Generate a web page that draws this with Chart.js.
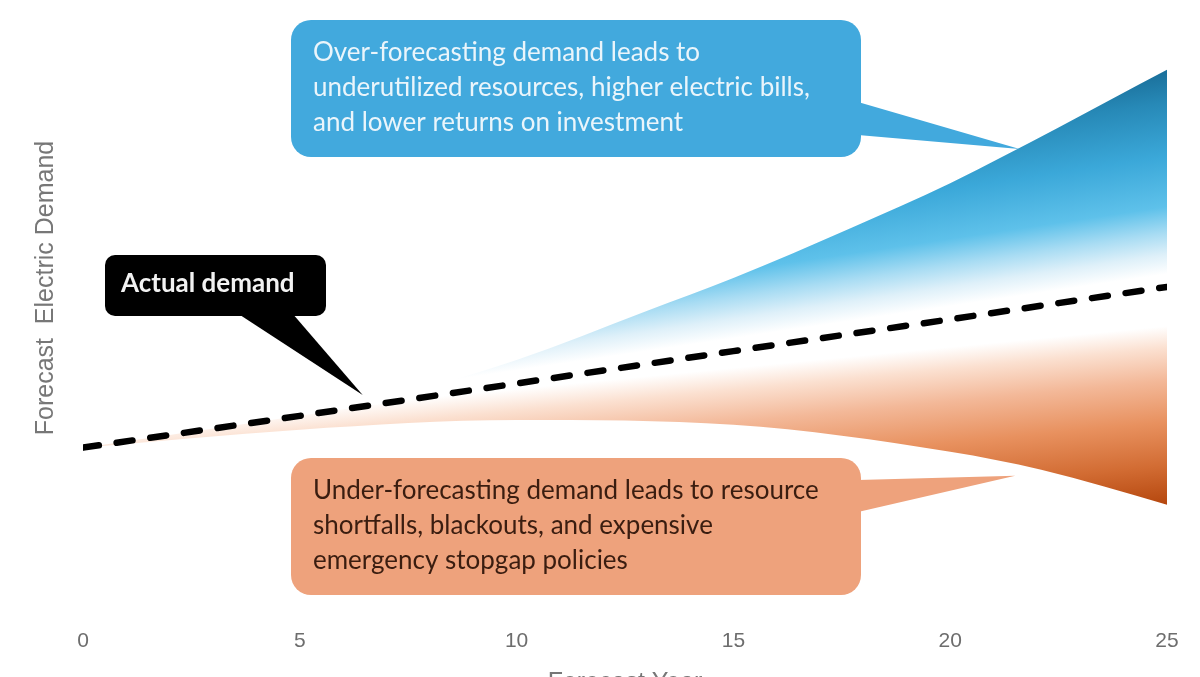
<!DOCTYPE html>
<html>
<head>
<meta charset="utf-8">
<script src="https://cdn.jsdelivr.net/npm/chart.js@4.4.1/dist/chart.umd.min.js"></script>
<style>
  html, body { margin: 0; padding: 0; background: #ffffff; }
  #wrap { width: 1200px; height: 677px; position: relative; }
</style>
</head>
<body>
<div id="wrap"><canvas id="forecastChart"></canvas></div>
<script>
// Data (y in arbitrary demand units 0-100)
const xTicks = [0, 5, 10, 15, 20, 25];
const actualYears = [0, 5, 10, 15, 20, 25];
const actualDemand = [28.7, 34.0, 39.4, 44.8, 50.1, 55.5];
const overYears = [6.5, 10, 13, 15, 17.7, 20, 25];
const overForecast = [35.7, 43.3, 51.5, 57.0, 65.3, 72.8, 91.7];
const underYears = [0, 5, 10, 15, 20, 22.1, 25];
const underForecast = [28.7, 31.7, 33.3, 32.5, 28.0, 25.0, 19.2];

const overText = ['Over-forecasting demand leads to', 'underutilized resources, higher electric bills,', 'and lower returns on investment'];
const underText = ['Under-forecasting demand leads to resource', 'shortfalls, blackouts, and expensive', 'emergency stopgap policies'];
const actualText = 'Actual demand';

const calloutFont = "Lato, 'Noto Sans', sans-serif";

function toPoints(xs, ys) {
  return xs.map((x, i) => ({ x: x, y: ys[i] }));
}

// gradient running from the dashed line out to the fan tip
// tilt = 1 keeps the colour bands parallel to the line, 0 makes them horizontal
function fanGradient(chart, edgeValue, stops, tilt) {
  const sx = chart.scales.x;
  const sy = chart.scales.y;
  const last = actualYears.length - 1;
  const x0 = sx.getPixelForValue(actualYears[0]);
  const y0 = sy.getPixelForValue(actualDemand[0]);
  const x1 = sx.getPixelForValue(actualYears[last]);
  const y1 = sy.getPixelForValue(actualDemand[last]);
  const dx = x1 - x0;
  const dy = (y1 - y0) * tilt;
  const len = Math.hypot(dx, dy);
  const nx = dy / len;
  const ny = -dx / len;
  const ty = sy.getPixelForValue(edgeValue);
  const t = (ty - y1) * ny;
  const g = chart.ctx.createLinearGradient(x1, y1, x1 + nx * t, y1 + ny * t);
  stops.forEach(s => g.addColorStop(s[0], s[1]));
  return g;
}

const overStops = [[0, '#ffffff'], [0.06, '#ffffff'], [0.15, '#def0f9'], [0.25, '#a8dcf3'], [0.37, '#5ec1ea'], [0.6, '#3ba8d9'], [0.85, '#2789b7'], [1, '#1a6f9a']];
const underStops = [[0, '#ffffff'], [0.18, '#ffffff'], [0.28, '#fbe0d0'], [0.43, '#f3b898'], [0.62, '#e8915f'], [0.82, '#d26c33'], [1, '#b5470e']];

function callout(ctx, box, tip, base, fill) {
  ctx.save();
  ctx.fillStyle = fill;
  ctx.beginPath();
  ctx.roundRect(box.x, box.y, box.w, box.h, box.r);
  ctx.fill();
  ctx.beginPath();
  ctx.moveTo(base[0][0], base[0][1]);
  ctx.lineTo(tip[0], tip[1]);
  ctx.lineTo(base[1][0], base[1][1]);
  ctx.closePath();
  ctx.fill();
  ctx.restore();
}

const annotations = {
  id: 'annotations',
  afterDatasetsDraw(chart) {
    const ctx = chart.ctx;
    const sx = chart.scales.x;
    const sy = chart.scales.y;
    const px = (x, y) => [sx.getPixelForValue(x), sy.getPixelForValue(y)];

    // over-forecast box
    callout(ctx, { x: 291, y: 20, w: 570, h: 137, r: 20 }, px(21.6, 78.5),
      [[858, 102], [858, 135]], '#42a9dd');
    // under-forecast box
    callout(ctx, { x: 291, y: 458, w: 570, h: 137, r: 20 }, px(21.5, 24.0),
      [[858, 480], [858, 512]], '#eea27c');
    // actual demand box
    callout(ctx, { x: 105, y: 255, w: 221, h: 61, r: 10 }, px(6.45, 37.5),
      [[237, 313], [292, 313]], '#000000');

    ctx.save();
    ctx.textBaseline = 'middle';
    ctx.textAlign = 'left';
    ctx.font = '26px ' + calloutFont;
    ctx.fillStyle = '#eaf5fb';
    overText.forEach((t, i) => ctx.fillText(t, 313, 53 + i * 35));
    ctx.fillStyle = '#3a1d10';
    underText.forEach((t, i) => ctx.fillText(t, 313, 491 + i * 35));
    ctx.font = 'bold 26px ' + calloutFont;
    ctx.fillStyle = '#f2f2f2';
    ctx.fillText(actualText, 121, 284);

    // axis titles
    ctx.fillStyle = '#777777';
    ctx.font = "25px 'Liberation Sans', Arial, sans-serif";
    ctx.textAlign = 'center';
    ctx.textBaseline = 'alphabetic';
    ctx.fillText('Forecast Year', (chart.chartArea.left + chart.chartArea.right) / 2, 690);
    ctx.translate(53, 288);
    ctx.rotate(-Math.PI / 2);
    ctx.fillText('Forecast  Electric Demand', 0, 0);
    ctx.restore();
  }
};

function initChart() {
  const canvas = document.getElementById('forecastChart');
  const ctx = canvas.getContext('2d');
  new Chart(ctx, {
    type: 'line',
    data: {
      datasets: [{
        label: 'Actual demand',
        data: toPoints(actualYears, actualDemand),
        borderColor: '#000000',
        borderWidth: 6.5,
        borderDash: [16, 18],
        borderCapStyle: 'round',
        pointRadius: 0,
        tension: 0,
        fill: false
      }, {
        label: 'Over-forecast',
        data: toPoints(overYears, overForecast),
        borderWidth: 0,
        borderColor: 'rgba(0,0,0,0)',
        pointRadius: 0,
        cubicInterpolationMode: 'monotone',
        fill: 0,
        backgroundColor: function(context) {
          const chart = context.chart;
          if (!chart.chartArea) return 'rgba(0,0,0,0)';
          return fanGradient(chart, overForecast[overForecast.length - 1], overStops, 1);
        }
      }, {
        label: 'Under-forecast',
        data: toPoints(underYears, underForecast),
        borderWidth: 0,
        borderColor: 'rgba(0,0,0,0)',
        pointRadius: 0,
        cubicInterpolationMode: 'monotone',
        fill: 0,
        backgroundColor: function(context) {
          const chart = context.chart;
          if (!chart.chartArea) return 'rgba(0,0,0,0)';
          return fanGradient(chart, underForecast[underForecast.length - 1], underStops, 0.65);
        }
      }]
    },
    options: {
      responsive: true,
      maintainAspectRatio: false,
      animation: false,
      layout: {
        padding: { left: 83, right: 33, top: 20, bottom: 22 }
      },
      plugins: {
        legend: { display: false },
        tooltip: { enabled: false }
      },
      scales: {
        x: {
          type: 'linear',
          min: 0,
          max: 25,
          grid: { display: false },
          border: { display: false },
          afterBuildTicks: axis => { axis.ticks = xTicks.map(v => ({ value: v })); },
          ticks: {
            padding: 1,
            color: '#6d6d6d',
            font: { family: "'Liberation Sans Narrow', 'Liberation Sans', Arial, sans-serif", size: 21 }
          }
        },
        y: {
          display: false,
          min: 0,
          max: 100
        }
      }
    },
    plugins: [annotations]
  });
}

initChart();
</script>
</body>
</html>
